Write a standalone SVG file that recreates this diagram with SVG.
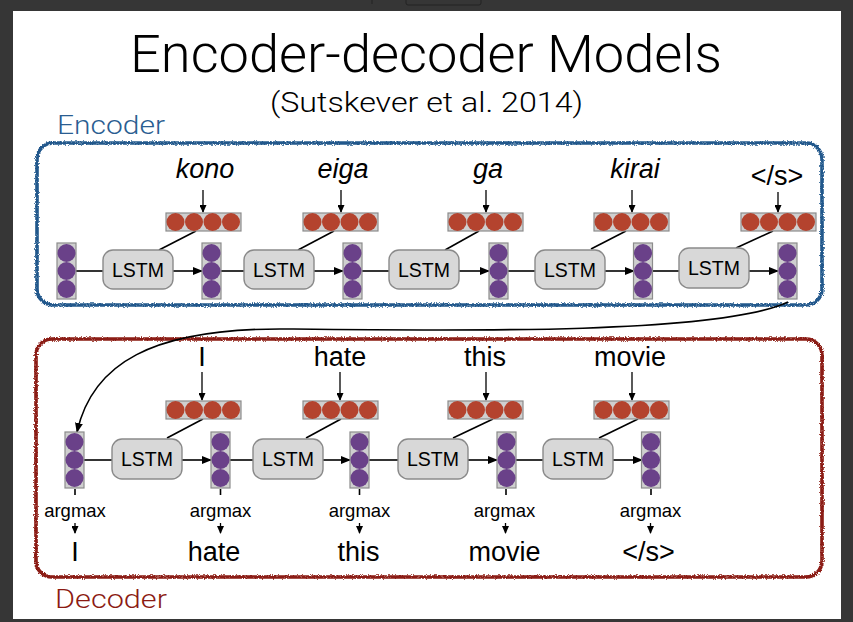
<svg xmlns="http://www.w3.org/2000/svg" width="853" height="622" viewBox="0 0 853 622">
<defs>
<style>
text{font-family:"Liberation Sans",Arial,sans-serif;fill:#000}
.light{font-family:Roboto,"Liberation Sans",sans-serif;font-weight:300}
.t{font-size:51px;text-anchor:middle}
.sub{font-size:27px;text-anchor:middle}
.w{font-size:27px;text-anchor:middle}
.wi{font-size:27px;text-anchor:middle;font-style:italic}
.lab{font-size:19.5px;text-anchor:middle}
.am{font-size:18.5px;text-anchor:middle}
.lstm{fill:#d8d8d8;stroke:#8a8a8a;stroke-width:1.4}
.col{fill:#cfcfcf;stroke:#8c8c8c;stroke-width:1.2}
.pc{fill:#6a4189}
.rc{fill:#b4432e}
.ln{stroke:#000;stroke-width:1.6;fill:none}
.ar{stroke:#000;stroke-width:1.6;fill:none;marker-end:url(#ah)}
.ars{stroke:#000;stroke-width:1.3;fill:none;marker-end:url(#ahs)}
</style>
<marker id="ah" markerWidth="10" markerHeight="8" refX="9" refY="4" orient="auto" markerUnits="userSpaceOnUse"><path d="M0,0 L10,4 L0,8 Z" fill="#000"/></marker>
<marker id="ahs" markerWidth="8" markerHeight="7" refX="7" refY="3.5" orient="auto" markerUnits="userSpaceOnUse"><path d="M0,0 L8,3.5 L0,7 Z" fill="#000"/></marker>
<filter id="rough" x="-5%" y="-5%" width="110%" height="110%"><feTurbulence type="fractalNoise" baseFrequency="0.9" numOctaves="2" seed="3" result="n"/><feDisplacementMap in="SourceGraphic" in2="n" scale="3.5" xChannelSelector="R" yChannelSelector="G"/></filter>
<g id="pcol"><rect class="col" x="-9.5" y="0" width="19" height="56"/><circle class="pc" cx="0" cy="10" r="9"/><circle class="pc" cx="0" cy="28" r="9"/><circle class="pc" cx="0" cy="46" r="9"/></g>
<g id="remb"><rect class="col" x="0" y="0" width="75" height="18"/><circle class="rc" cx="9.5" cy="9" r="9"/><circle class="rc" cx="28" cy="9" r="9"/><circle class="rc" cx="46.5" cy="9" r="9"/><circle class="rc" cx="65" cy="9" r="9"/></g>
</defs>
<rect x="0" y="0" width="853" height="622" fill="#363636"/>
<rect x="13" y="11" width="828" height="608" fill="#fff"/>
<rect x="406" y="-3" width="75" height="8" rx="2" fill="none" stroke="#222" stroke-width="1"/>
<line x1="372" y1="0" x2="372" y2="4" stroke="#222" stroke-width="1"/>

<g id="title">
<text class="t light" x="426" y="72" textLength="592" lengthAdjust="spacingAndGlyphs">Encoder-decoder Models</text>
<text class="sub light" x="426.5" y="112" textLength="313" lengthAdjust="spacingAndGlyphs">(Sutskever et al. 2014)</text>
</g>

<g id="encoder-box">
<rect x="37" y="143" width="785" height="162" rx="16" fill="none" stroke="#24588c" stroke-width="3.6" filter="url(#rough)"/>
<text class="light" x="57" y="134" style="font-size:26px;fill:#2a5d91" textLength="108" lengthAdjust="spacingAndGlyphs">Encoder</text>
</g>
<g id="decoder-box">
<rect x="36" y="339" width="786" height="238" rx="16" fill="none" stroke="#8b1a12" stroke-width="3.6" filter="url(#rough)"/>
<text class="light" x="55" y="608" style="font-size:26px;fill:#8b1a12" textLength="112" lengthAdjust="spacingAndGlyphs">Decoder</text>
</g>

<g id="connectors">
<line class="ars" x1="203" y1="190" x2="203" y2="212"/>
<line class="ars" x1="341" y1="190" x2="341" y2="212"/>
<line class="ars" x1="486" y1="190" x2="486" y2="212"/>
<line class="ars" x1="632" y1="190" x2="632" y2="212"/>
<line class="ars" x1="778" y1="192" x2="778" y2="212"/>
<line class="ln" x1="196" y1="231" x2="159" y2="250"/>
<line class="ln" x1="334" y1="231" x2="298" y2="250"/>
<line class="ln" x1="479" y1="231" x2="445" y2="250"/>
<line class="ln" x1="626" y1="231" x2="591" y2="249"/>
<line class="ln" x1="773" y1="231" x2="736" y2="248"/>
<line class="ln" x1="76" y1="271" x2="103" y2="271"/>
<line class="ar" x1="173" y1="271" x2="202" y2="271"/>
<line class="ln" x1="221" y1="271" x2="244" y2="271"/>
<line class="ar" x1="314" y1="271" x2="343" y2="271"/>
<line class="ln" x1="362" y1="271" x2="389" y2="271"/>
<line class="ar" x1="459" y1="271" x2="489" y2="271"/>
<line class="ln" x1="508" y1="271" x2="535" y2="271"/>
<line class="ar" x1="605" y1="271" x2="634" y2="271"/>
<line class="ln" x1="652" y1="271" x2="679" y2="271"/>
<line class="ar" x1="749" y1="271" x2="778" y2="271"/>
<path class="ar" d="M788,302 C720,334 470,331 290,329 C150,327 92,365 77,432"/>
<line class="ars" x1="202" y1="372" x2="202" y2="400"/>
<line class="ars" x1="340" y1="372" x2="340" y2="400"/>
<line class="ars" x1="486" y1="372" x2="486" y2="400"/>
<line class="ars" x1="632" y1="372" x2="632" y2="400"/>
<line class="ln" x1="203" y1="419" x2="167" y2="438"/>
<line class="ln" x1="341" y1="419" x2="306" y2="438"/>
<line class="ln" x1="493" y1="419" x2="453" y2="438"/>
<line class="ln" x1="638" y1="419" x2="599" y2="438"/>
<line class="ln" x1="84" y1="460" x2="112" y2="460"/>
<line class="ar" x1="182" y1="460" x2="211" y2="460"/>
<line class="ln" x1="230" y1="460" x2="253" y2="460"/>
<line class="ar" x1="323" y1="460" x2="350" y2="460"/>
<line class="ln" x1="369" y1="460" x2="398" y2="460"/>
<line class="ar" x1="468" y1="460" x2="497" y2="460"/>
<line class="ln" x1="516" y1="460" x2="543" y2="460"/>
<line class="ar" x1="613" y1="460" x2="642" y2="460"/>
<line class="ln" x1="75" y1="489" x2="75" y2="495"/>
<line class="ln" x1="220.5" y1="489" x2="220.5" y2="495"/>
<line class="ln" x1="359.5" y1="489" x2="359.5" y2="495"/>
<line class="ln" x1="506" y1="489" x2="506" y2="495"/>
<line class="ln" x1="651" y1="489" x2="651" y2="495"/>
<line class="ars" x1="75" y1="523" x2="75" y2="533"/>
<line class="ars" x1="220.5" y1="523" x2="220.5" y2="533"/>
<line class="ars" x1="359.5" y1="523" x2="359.5" y2="533"/>
<line class="ars" x1="505.5" y1="523" x2="505.5" y2="533"/>
<line class="ars" x1="650.5" y1="523" x2="650.5" y2="533"/>
</g>

<g id="enc-words">
<text class="wi" x="205" y="178">kono</text>
<text class="wi" x="343" y="178">eiga</text>
<text class="wi" x="488" y="178">ga</text>
<text class="wi" x="635" y="178">kirai</text>
<text class="w" x="777" y="185">&lt;/s&gt;</text>
</g>
<g id="enc-emb">
<use href="#remb" x="166" y="213"/>
<use href="#remb" x="303" y="213"/>
<use href="#remb" x="448" y="213"/>
<use href="#remb" x="594" y="213"/>
<use href="#remb" x="741" y="213"/>
</g>
<g id="enc-states">
<use href="#pcol" x="66.5" y="243"/>
<use href="#pcol" x="211.5" y="243"/>
<use href="#pcol" x="352.5" y="243"/>
<use href="#pcol" x="498.5" y="243"/>
<use href="#pcol" x="643" y="243"/>
<use href="#pcol" x="787.5" y="243"/>
</g>
<g id="enc-lstm1"><rect class="lstm" x="103" y="250" width="70" height="39" rx="10"/><text class="lab" x="138" y="277">LSTM</text></g>
<g id="enc-lstm2"><rect class="lstm" x="244" y="250" width="70" height="39" rx="10"/><text class="lab" x="279" y="277">LSTM</text></g>
<g id="enc-lstm3"><rect class="lstm" x="389" y="250" width="70" height="39" rx="10"/><text class="lab" x="424" y="277">LSTM</text></g>
<g id="enc-lstm4"><rect class="lstm" x="535" y="250" width="70" height="39" rx="10"/><text class="lab" x="570" y="277">LSTM</text></g>
<g id="enc-lstm5"><rect class="lstm" x="679" y="248" width="70" height="40" rx="10"/><text class="lab" x="714" y="275">LSTM</text></g>

<g id="dec-words">
<text class="w" x="202" y="366">I</text>
<text class="w" x="340" y="366">hate</text>
<text class="w" x="485" y="366">this</text>
<text class="w" x="630" y="366">movie</text>
</g>
<g id="dec-emb">
<use href="#remb" x="166" y="401"/>
<use href="#remb" x="303" y="401"/>
<use href="#remb" x="448" y="401"/>
<use href="#remb" x="594" y="401"/>
</g>
<g id="dec-states">
<use href="#pcol" x="74.5" y="432"/>
<use href="#pcol" x="220.5" y="432"/>
<use href="#pcol" x="359.5" y="432"/>
<use href="#pcol" x="506.5" y="432"/>
<use href="#pcol" x="651" y="432"/>
</g>
<g id="dec-lstm1"><rect class="lstm" x="112" y="439" width="70" height="40" rx="10"/><text class="lab" x="147" y="466">LSTM</text></g>
<g id="dec-lstm2"><rect class="lstm" x="253" y="439" width="70" height="40" rx="10"/><text class="lab" x="288" y="466">LSTM</text></g>
<g id="dec-lstm3"><rect class="lstm" x="398" y="439" width="70" height="40" rx="10"/><text class="lab" x="433" y="466">LSTM</text></g>
<g id="dec-lstm4"><rect class="lstm" x="543" y="439" width="70" height="40" rx="10"/><text class="lab" x="578" y="466">LSTM</text></g>

<g id="outputs">
<text class="am" x="75" y="517">argmax</text>
<text class="am" x="220.5" y="517">argmax</text>
<text class="am" x="359.5" y="517">argmax</text>
<text class="am" x="504.5" y="517">argmax</text>
<text class="am" x="650.5" y="517">argmax</text>
<text class="w" x="75" y="561">I</text>
<text class="w" x="214" y="561">hate</text>
<text class="w" x="358.5" y="561">this</text>
<text class="w" x="504.5" y="561">movie</text>
<text class="w" x="648.5" y="561">&lt;/s&gt;</text>
</g>
</svg>
